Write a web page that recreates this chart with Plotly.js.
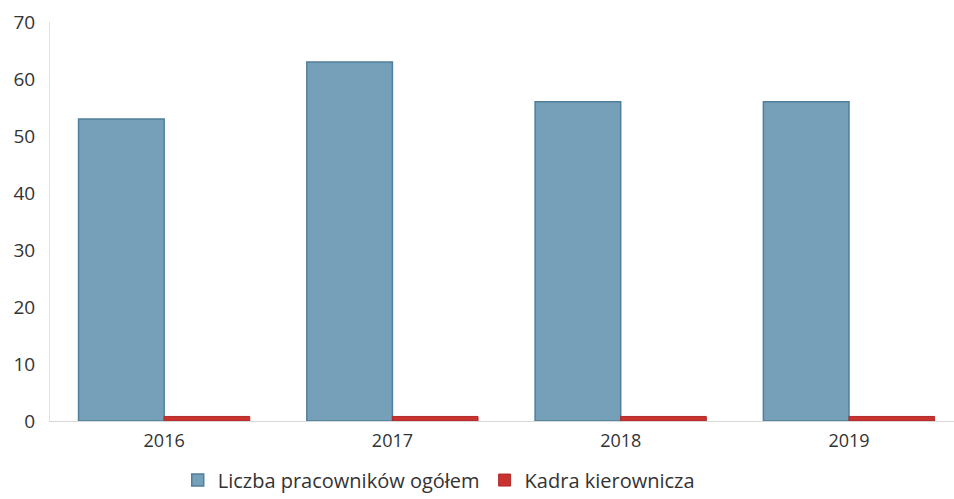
<!DOCTYPE html>
<html>
<head>
<meta charset="utf-8">
<script src="https://cdn.plot.ly/plotly-3.0.1.min.js"></script>
<style>html,body{margin:0;padding:0;background:#fff}#chart{width:954px;height:499px}</style>
</head>
<body>
<div id="chart"></div>
<script>
const years = ['2016', '2017', '2018', '2019'];
const seriesNames = ['Liczba pracowników ogółem', 'Kadra kierownicza'];
const totalEmployees = [53, 63, 56, 56];
const management = [0.8, 0.8, 0.8, 0.8];
const yTicks = [0, 10, 20, 30, 40, 50, 60, 70];

const traces = [
  {
    type: 'bar', x: years, y: totalEmployees, name: seriesNames[0],
    marker: {color: '#76a0b9', line: {color: '#507f9b', width: 1.5}},
    hoverinfo: 'x+y'
  },
  {
    type: 'bar', x: years, y: management, name: seriesNames[1],
    marker: {color: '#c8322f', line: {color: '#b02a2a', width: 1}},
    hoverinfo: 'x+y'
  }
];

const layout = {
  width: 954, height: 499,
  margin: {l: 50, r: 0, t: 22, b: 78, autoexpand: false},
  paper_bgcolor: '#ffffff', plot_bgcolor: '#ffffff',
  barmode: 'group', bargap: 0.25, bargroupgap: 0,
  font: {family: 'Open Sans, Liberation Sans, sans-serif', size: 18, color: '#333'},
  xaxis: {
    type: 'category', range: [-0.5, 3.46],
    showgrid: false, zeroline: false,
    showline: true, linecolor: '#d8d8d8', linewidth: 1,
    ticks: '', ticklabelstandoff: 3, tickfont: {size: 18, color: '#333'}
  },
  yaxis: {
    range: [0, 70], tickvals: yTicks, ticktext: yTicks.map(String),
    showgrid: false, zeroline: false,
    showline: true, linecolor: '#e0e0e0', linewidth: 1,
    ticks: '', ticklabelstandoff: 10, tickfont: {size: 19, color: '#333'}
  },
  showlegend: true,
  legend: {
    orientation: 'h', x: 0.43, xanchor: 'center', y: -0.148, yanchor: 'middle',
    font: {size: 20, color: '#333'}, itemwidth: 30, traceorder: 'normal'
  }
};

Plotly.newPlot('chart', traces, layout, {displayModeBar: false, staticPlot: true});
</script>
</body>
</html>
